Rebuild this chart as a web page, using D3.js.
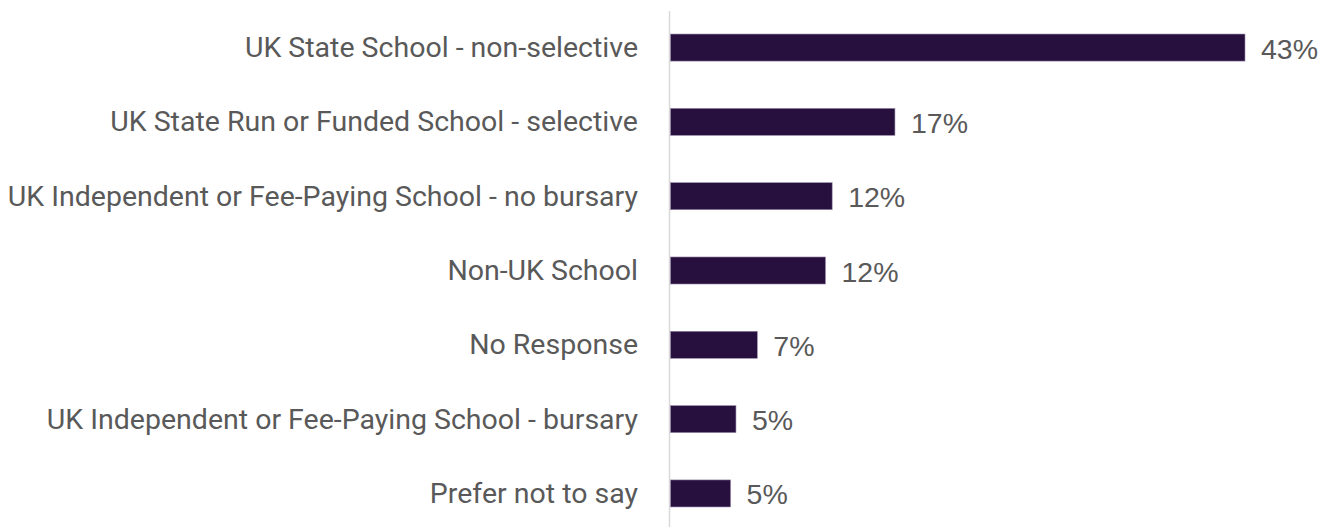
<!DOCTYPE html>
<html>
<head>
<meta charset="utf-8">
<script src="https://cdn.jsdelivr.net/npm/d3@7"></script>
<style>
  html, body { margin: 0; padding: 0; background: #fff; }
  svg { display: block; }
</style>
</head>
<body>
<svg id="chart" width="1331" height="527"></svg>
<script>
// values (percent)
const categories = [
  "UK State School - non-selective",
  "UK State Run or Funded School - selective",
  "UK Independent or Fee-Paying School - no bursary",
  "Non-UK School",
  "No Response",
  "UK Independent or Fee-Paying School - bursary",
  "Prefer not to say"
];
const values = [43.0, 16.8, 12.1, 11.6, 6.5, 4.9, 4.5];
const valueLabels = ["43%", "17%", "12%", "12%", "7%", "5%", "5%"];

const width = 1331;
const height = 527;
const axisX = 670.5;

const svg = d3.select("#chart");

const x = d3.scaleLinear()
  .domain([0, 43])
  .range([axisX, 1245]);

const y = d3.scaleBand()
  .domain(categories)
  .range([10.4, 530.6])
  .paddingInner(0.636)
  .paddingOuter(0.318);

// vertical axis line
svg.append("line")
  .attr("x1", axisX - 1).attr("x2", axisX - 1)
  .attr("y1", 11).attr("y2", height)
  .attr("stroke", "#d9d9d9")
  .attr("stroke-width", 1.5);

svg.selectAll("rect.bar")
  .data(values)
  .join("rect")
  .attr("class", "bar")
  .attr("x", x(0))
  .attr("y", (d, i) => y(categories[i]))
  .attr("width", d => x(d) - x(0))
  .attr("height", y.bandwidth())
  .attr("fill", "#28103e")
  .attr("stroke", "#9a8cab")
  .attr("stroke-width", 0.6);

svg.selectAll("text.cat")
  .data(categories)
  .join("text")
  .attr("class", "cat")
  .attr("x", 638)
  .attr("y", d => y(d) + y.bandwidth() / 2)
  .attr("text-anchor", "end")
  .attr("dominant-baseline", "central")
  .attr("fill", "#595959")
  .style("font-family", "Roboto, 'Liberation Sans', sans-serif")
  .style("font-size", "28.5px")
  .text(d => d);

svg.selectAll("text.val")
  .data(values)
  .join("text")
  .attr("class", "val")
  .attr("x", d => x(d) + 16)
  .attr("y", (d, i) => y(categories[i]) + y.bandwidth() / 2 + 1)
  .attr("dominant-baseline", "central")
  .attr("fill", "#595959")
  .style("font-family", "'Liberation Sans', Arial, sans-serif")
  .style("font-size", "28.5px")
  .text((d, i) => valueLabels[i]);
</script>
</body>
</html>
